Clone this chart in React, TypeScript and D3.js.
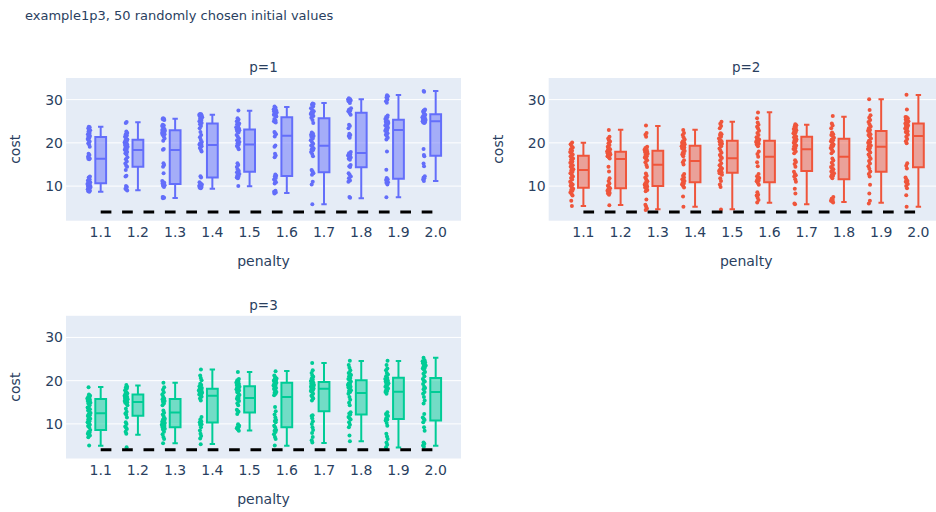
import React from 'react';
import * as d3 from 'd3';

// ---------- data ----------
const categories = [1.1, 1.2, 1.3, 1.4, 1.5, 1.6, 1.7, 1.8, 1.9, 2.0];
const tickLabels = ['1.1', '1.2', '1.3', '1.4', '1.5', '1.6', '1.7', '1.8', '1.9', '2.0'];
const yTicks = [10, 20, 30];
const refCost = 4;
const refX = [1.1, 2.0];

// p=1
const p1Lower = [8.71, 9.02, 7.24, 9.4, 9.94, 8.4, 5.78, 7.17, 7.4, 11.18];
const p1Q1 = [10.64, 14.49, 10.48, 12.0, 13.3, 12.33, 13.18, 14.34, 11.72, 17.04];
const p1Median = [16.34, 18.35, 18.35, 19.5, 19.6, 21.66, 19.35, 17.65, 22.97, 24.98];
const p1Q3 = [21.35, 20.74, 22.9, 24.5, 23.1, 25.9, 25.67, 26.98, 25.36, 26.6];
const p1Upper = [23.74, 24.75, 25.6, 26.5, 27.4, 28.3, 29.2, 30.1, 31.07, 32.0];
const p1Points = [
  [8.7, 8.8, 8.9, 9.0, 9.3, 9.5, 9.6, 9.8, 9.9, 10.0, 10.2, 10.3, 10.5, 10.6, 10.7, 10.9, 11.0, 11.3, 11.6, 12.0, 12.2, 16.2, 16.3, 16.4, 16.5, 16.8, 17.2, 17.5, 19.1, 19.6, 19.9, 20.3, 20.6, 20.9, 21.2, 21.4, 21.6, 21.8, 22.0, 22.3, 22.6, 22.9, 23.1, 23.4, 23.6, 23.7],
  [9.0, 9.2, 9.4, 9.8, 10.0, 12.2, 12.4, 13.7, 14.5, 14.7, 15.2, 15.7, 16.2, 16.7, 17.3, 17.6, 17.9, 18.2, 18.4, 18.6, 18.9, 19.1, 19.3, 19.5, 19.7, 19.9, 20.1, 20.3, 20.5, 20.8, 21.0, 21.4, 21.7, 22.0, 22.3, 22.6, 24.6, 24.8],
  [7.2, 7.3, 7.4, 7.5, 9.8, 10.1, 10.2, 10.4, 10.6, 10.8, 10.9, 11.2, 13.0, 14.5, 14.9, 15.3, 18.4, 18.6, 20.5, 21.0, 21.5, 21.9, 22.0, 22.2, 22.3, 22.4, 22.6, 22.8, 22.9, 23.0, 23.2, 23.5, 23.9, 24.0, 24.2, 25.3, 25.4, 25.5, 25.6, 25.7],
  [9.5, 9.6, 9.8, 9.9, 10.0, 10.1, 10.2, 10.4, 10.6, 10.9, 12.0, 12.3, 18.0, 18.4, 18.8, 19.2, 19.5, 19.6, 19.7, 19.9, 20.2, 20.7, 21.3, 21.8, 22.5, 23.4, 23.9, 24.3, 24.6, 24.9, 25.0, 25.3, 25.6, 25.9, 26.1, 26.2, 26.3, 26.4, 26.5, 26.6, 26.7],
  [10.0, 11.8, 12.0, 12.2, 12.5, 12.8, 13.0, 13.2, 13.5, 13.9, 14.4, 14.9, 15.3, 18.5, 18.9, 19.3, 19.6, 19.9, 20.2, 20.4, 20.6, 21.0, 21.4, 21.8, 22.4, 22.7, 22.9, 23.0, 23.1, 23.3, 23.4, 23.6, 24.0, 24.3, 24.5, 24.7, 25.0, 25.4, 25.7, 27.5],
  [8.3, 8.5, 8.6, 8.7, 8.9, 10.6, 10.9, 11.2, 11.5, 11.9, 12.2, 12.4, 12.7, 16.7, 17.1, 17.5, 19.1, 19.4, 21.5, 22.0, 22.2, 22.5, 24.7, 24.9, 25.0, 25.2, 25.5, 26.1, 26.4, 26.5, 26.7, 26.9, 27.0, 27.2, 27.3, 27.5, 27.6, 27.8, 28.1, 28.4],
  [5.8, 10.4, 11.0, 12.6, 13.0, 13.4, 13.7, 16.9, 17.4, 17.9, 18.3, 18.5, 18.7, 19.1, 19.4, 19.8, 20.2, 20.6, 21.0, 21.4, 21.6, 21.8, 21.9, 22.1, 22.4, 24.6, 25.3, 25.8, 26.2, 26.5, 26.7, 26.9, 27.1, 27.3, 27.6, 28.0, 28.4, 28.8, 29.0, 29.1],
  [7.3, 7.5, 11.0, 11.3, 11.8, 12.2, 12.6, 13.0, 14.4, 14.6, 14.9, 16.1, 16.3, 16.6, 16.9, 17.1, 17.3, 17.6, 17.9, 21.2, 21.6, 21.8, 22.1, 23.4, 23.9, 24.2, 26.5, 26.9, 27.3, 27.5, 27.7, 28.0, 29.2, 29.6, 29.8, 29.9, 30.0, 30.1, 30.3],
  [7.4, 10.4, 10.8, 10.9, 11.2, 11.4, 11.6, 11.9, 13.8, 18.0, 20.8, 21.2, 21.6, 21.9, 22.2, 22.5, 22.8, 23.0, 23.2, 23.5, 23.7, 24.0, 24.2, 24.4, 24.6, 24.8, 24.9, 25.0, 25.2, 25.5, 25.9, 26.0, 26.3, 29.3, 29.6, 30.0, 30.5, 30.8, 31.0],
  [11.2, 11.5, 11.8, 12.0, 12.3, 14.6, 15.2, 16.9, 17.2, 18.6, 24.6, 24.7, 24.8, 24.9, 25.0, 25.1, 25.2, 25.3, 25.4, 25.5, 25.6, 25.8, 25.9, 26.0, 26.2, 26.5, 26.8, 27.2, 27.4, 27.5, 27.7, 31.8, 32.0],
];

// p=2
const p2Lower = [5.39, 5.63, 4.62, 5.24, 4.62, 6.16, 5.78, 6.32, 6.16, 5.24];
const p2Q1 = [9.63, 9.48, 10.02, 10.87, 13.1, 10.87, 13.49, 11.56, 13.33, 14.34];
const p2Median = [13.72, 16.26, 14.95, 15.8, 16.42, 16.8, 18.5, 16.8, 19.12, 21.6];
const p2Q3 = [17.04, 17.96, 18.2, 19.35, 20.5, 20.5, 21.43, 20.97, 22.74, 24.5];
const p2Upper = [20.04, 23.05, 23.9, 23.05, 24.9, 27.06, 24.2, 26.06, 30.07, 31.07];
const p2Points = [
  [5.4, 6.6, 7.8, 8.2, 8.5, 8.9, 9.1, 9.4, 9.7, 10.1, 10.4, 10.6, 11.0, 11.5, 11.9, 12.2, 12.7, 13.0, 13.3, 13.6, 13.9, 14.1, 14.5, 14.8, 15.0, 15.4, 15.7, 16.1, 16.4, 16.6, 16.9, 17.3, 17.6, 17.9, 18.2, 18.5, 18.9, 19.3, 19.7, 20.1],
  [5.6, 8.0, 8.3, 8.4, 8.6, 8.9, 9.0, 9.2, 9.5, 9.8, 10.1, 10.6, 11.2, 11.8, 13.4, 14.5, 16.4, 16.7, 16.9, 17.0, 17.2, 17.3, 17.4, 17.6, 17.7, 17.8, 18.0, 18.2, 18.4, 18.5, 18.8, 19.1, 19.5, 19.9, 20.3, 20.6, 21.0, 21.4, 23.0],
  [4.5, 4.8, 5.3, 5.7, 6.9, 8.8, 9.1, 9.4, 9.7, 9.9, 10.0, 10.3, 10.5, 10.7, 11.1, 11.5, 12.0, 12.4, 12.9, 14.4, 14.9, 15.5, 16.0, 16.3, 16.6, 16.9, 17.2, 17.5, 17.7, 17.9, 18.0, 18.2, 18.4, 18.5, 18.8, 19.1, 21.4, 21.9, 22.3, 24.0],
  [5.2, 7.6, 9.7, 10.0, 10.4, 10.6, 10.8, 11.2, 11.4, 11.6, 12.0, 12.4, 12.8, 15.0, 15.5, 16.0, 16.9, 17.3, 17.5, 17.7, 18.1, 18.5, 18.7, 18.9, 19.0, 19.2, 19.4, 19.5, 19.7, 19.8, 20.0, 20.1, 20.4, 20.8, 21.3, 21.8, 22.3, 23.0],
  [4.6, 9.8, 10.4, 11.2, 11.8, 12.6, 12.9, 13.0, 13.2, 13.4, 13.5, 13.7, 13.8, 14.1, 14.4, 14.8, 15.3, 16.0, 16.5, 16.8, 17.2, 17.7, 18.2, 18.7, 19.2, 19.6, 19.8, 20.0, 20.3, 20.4, 20.6, 21.0, 21.4, 21.8, 22.0, 22.2, 23.4, 23.9, 24.4, 24.9],
  [6.2, 6.8, 7.3, 7.8, 8.0, 8.6, 10.3, 10.7, 11.1, 11.3, 11.5, 11.9, 12.0, 12.3, 12.8, 14.6, 15.5, 16.8, 17.4, 18.0, 19.2, 19.6, 19.8, 20.0, 20.2, 20.4, 20.6, 20.8, 21.0, 21.3, 21.8, 22.3, 22.8, 23.3, 23.7, 24.2, 24.7, 25.7, 27.0],
  [5.8, 6.0, 8.3, 9.4, 11.0, 11.6, 12.2, 12.5, 12.8, 13.3, 14.5, 15.1, 15.6, 16.0, 17.6, 18.0, 18.4, 18.6, 18.8, 19.2, 19.4, 19.6, 20.0, 20.4, 20.6, 20.8, 21.1, 21.3, 21.5, 21.8, 22.2, 22.4, 22.6, 22.9, 23.0, 23.2, 23.5, 23.8, 24.1, 24.3],
  [6.2, 6.5, 6.6, 6.8, 7.1, 7.5, 11.8, 12.2, 12.4, 12.6, 13.0, 13.2, 13.4, 13.9, 14.1, 14.4, 14.9, 15.4, 15.9, 16.4, 17.6, 18.0, 18.4, 18.8, 19.2, 19.4, 19.6, 20.0, 20.4, 20.6, 20.8, 21.2, 21.6, 21.8, 22.0, 22.4, 23.4, 24.0, 24.5, 26.2],
  [6.0, 6.6, 8.3, 10.3, 12.2, 12.8, 13.4, 14.0, 14.6, 15.2, 15.8, 16.3, 16.8, 17.3, 17.8, 18.3, 18.6, 18.8, 19.2, 19.4, 19.6, 20.0, 20.2, 20.5, 21.0, 21.5, 21.8, 22.0, 22.5, 22.8, 23.0, 23.4, 23.8, 24.3, 24.8, 25.3, 25.8, 26.4, 27.6, 30.1],
  [5.2, 7.9, 9.5, 10.0, 10.5, 10.8, 11.0, 11.2, 11.5, 12.0, 14.1, 14.7, 15.3, 19.9, 20.4, 20.9, 21.4, 21.9, 22.3, 22.5, 22.7, 23.1, 23.3, 23.5, 23.9, 24.0, 24.2, 24.5, 24.6, 24.8, 25.0, 25.1, 25.4, 25.7, 25.9, 26.0, 27.7, 31.1],
];

// p=3
const p3Lower = [4.96, 7.52, 5.5, 5.35, 8.45, 4.96, 5.58, 5.97, 4.57, 4.96];
const p3Q1 = [8.6, 11.86, 9.22, 10.31, 12.64, 9.22, 12.95, 12.17, 11.16, 10.78];
const p3Median = [12.48, 15.04, 12.64, 16.5, 15.97, 16.2, 18.14, 17.13, 17.44, 17.36];
const p3Q3 = [15.74, 16.82, 15.74, 18.14, 18.68, 19.53, 19.7, 20.08, 20.7, 20.62];
const p3Upper = [18.53, 18.9, 19.53, 22.6, 22.0, 22.25, 24.1, 24.57, 24.57, 25.27];
const p3Points = [
  [5.0, 6.9, 7.3, 7.5, 7.7, 8.0, 8.1, 8.6, 9.2, 9.5, 9.8, 10.2, 10.4, 10.6, 11.0, 11.2, 11.4, 11.8, 12.0, 12.2, 12.5, 12.8, 13.1, 13.4, 13.6, 13.8, 14.3, 14.7, 14.9, 15.0, 15.3, 15.5, 15.6, 15.9, 16.0, 16.2, 16.5, 16.8, 18.5],
  [4.6, 7.7, 8.2, 8.8, 9.1, 9.4, 10.0, 10.4, 11.5, 12.1, 12.4, 12.8, 13.5, 14.3, 14.7, 14.9, 15.0, 15.2, 15.3, 15.5, 15.6, 15.7, 15.9, 16.0, 16.2, 16.4, 16.5, 16.8, 17.0, 17.1, 17.4, 17.8, 18.2, 18.4, 18.6, 19.0],
  [5.5, 6.5, 7.0, 7.6, 8.2, 8.7, 8.9, 9.0, 9.3, 9.5, 9.6, 9.8, 9.9, 10.0, 10.2, 10.4, 10.5, 10.8, 11.0, 11.2, 11.7, 12.2, 12.6, 13.1, 14.3, 14.7, 15.1, 15.3, 15.5, 15.7, 15.9, 16.3, 16.8, 17.3, 17.9, 18.5, 19.5],
  [5.3, 6.6, 7.2, 7.7, 8.5, 9.2, 9.8, 9.9, 10.2, 10.4, 10.6, 11.0, 11.6, 15.4, 15.9, 16.3, 16.6, 16.8, 16.9, 17.0, 17.2, 17.4, 17.5, 17.6, 17.7, 17.8, 18.0, 18.1, 18.3, 18.4, 18.7, 19.0, 19.3, 20.1, 20.6, 21.2, 22.6],
  [8.4, 8.7, 9.0, 9.2, 9.3, 9.6, 9.9, 12.3, 12.8, 13.0, 13.3, 14.3, 14.8, 15.3, 15.6, 15.8, 16.0, 16.3, 16.7, 17.1, 17.4, 17.7, 17.9, 18.0, 18.3, 18.5, 18.6, 18.9, 19.0, 19.2, 19.5, 19.6, 19.8, 20.1, 20.4, 22.0],
  [5.0, 6.5, 7.0, 7.6, 8.1, 8.4, 8.6, 9.2, 9.6, 10.4, 10.7, 10.9, 11.5, 12.2, 12.9, 13.9, 16.6, 17.0, 17.2, 17.4, 17.7, 18.1, 18.3, 18.5, 18.9, 19.0, 19.3, 19.5, 19.7, 20.0, 20.1, 20.3, 20.5, 20.8, 21.2, 22.2],
  [5.7, 6.2, 7.0, 7.9, 8.6, 9.2, 10.0, 10.6, 11.3, 11.8, 12.0, 15.4, 15.9, 16.2, 16.5, 17.0, 17.4, 17.6, 17.8, 18.1, 18.2, 18.4, 18.6, 18.7, 18.9, 19.0, 19.2, 19.3, 19.5, 19.6, 19.9, 20.2, 20.5, 20.9, 21.2, 21.8, 22.4, 24.1],
  [6.0, 7.3, 9.2, 9.8, 10.4, 11.0, 11.3, 11.6, 12.2, 12.4, 12.7, 14.3, 14.9, 15.6, 16.2, 17.0, 17.4, 17.6, 17.8, 18.2, 18.4, 18.6, 18.8, 19.0, 19.2, 19.4, 19.8, 20.2, 20.4, 20.6, 21.0, 21.3, 21.6, 21.8, 22.4, 23.0, 23.6, 24.6],
  [4.6, 5.2, 5.7, 6.5, 7.1, 7.7, 9.6, 10.2, 10.8, 11.0, 11.3, 11.8, 12.0, 12.3, 12.7, 17.0, 17.4, 17.6, 17.8, 18.2, 18.4, 18.6, 19.0, 19.2, 19.4, 19.6, 19.8, 20.0, 20.2, 20.4, 20.6, 21.0, 21.4, 21.8, 22.4, 22.8, 23.6, 24.6],
  [4.7, 5.0, 5.4, 5.7, 8.4, 9.2, 10.4, 10.9, 11.2, 11.5, 12.3, 14.7, 15.4, 16.2, 17.0, 17.4, 18.0, 18.3, 18.6, 19.2, 19.8, 20.0, 20.4, 21.0, 21.6, 22.0, 22.5, 22.8, 23.0, 23.3, 23.5, 23.8, 24.0, 24.2, 24.4, 24.5, 24.7, 25.3],
];

// ---------- layout ----------
const W = 936;
const H = 512;
const PW = 395;
const PH = 142.7;
const X_DOMAIN = [1.0068, 2.068];
const Y_DOMAIN = [2, 35];
const TEXT = '#2a3f5f';
const BG = '#E5ECF6';
const FONT = '"DejaVu Sans", Verdana, sans-serif';

function jitter(vals: number[], seed: number): number[] {
  const dens = vals.map((v) => vals.filter((u) => Math.abs(u - v) < 1.2).length);
  const maxD = Math.max(...dens);
  return vals.map((_, i) => {
    const r = (((i + 1) * 0.6180339887 + seed * 0.3141592) % 1) * 2 - 1;
    return r * Math.sqrt(dens[i] / maxD);
  });
}

type PanelProps = {
  id: string;
  x0: number;
  y0: number;
  title: string;
  color: string;
  fill: string;
  lower: number[];
  q1: number[];
  med: number[];
  q3: number[];
  upper: number[];
  points: number[][];
};

function Panel(p: PanelProps) {
  const x = d3.scaleLinear().domain(X_DOMAIN).range([p.x0, p.x0 + PW]);
  const y = d3.scaleLinear().domain(Y_DOMAIN).range([p.y0 + PH, p.y0]);
  const half = 5.4;
  const cap = half * 0.5;
  const ptOffset = -11.7;
  const jitAmp = 1.8;
  const refLine = d3
    .line<number>()
    .x((d) => x(d))
    .y(() => y(refCost))(refX);

  return (
    <g>
      <defs>
        <clipPath id={`clip-${p.id}`}>
          <rect x={p.x0} y={p.y0} width={PW} height={PH} />
        </clipPath>
      </defs>
      <rect x={p.x0} y={p.y0} width={PW} height={PH} fill={BG} />
      {yTicks.map((t) => (
        <line key={t} x1={p.x0} x2={p.x0 + PW} y1={y(t)} y2={y(t)} stroke="#fff" strokeWidth={1} />
      ))}
      <g clipPath={`url(#clip-${p.id})`}>
        {categories.map((c, i) => {
          const xc = x(c);
          const path = d3.path();
          path.moveTo(xc - half, y(p.med[i]));
          path.lineTo(xc + half, y(p.med[i]));
          path.moveTo(xc - half, y(p.q3[i]));
          path.lineTo(xc + half, y(p.q3[i]));
          path.lineTo(xc + half, y(p.q1[i]));
          path.lineTo(xc - half, y(p.q1[i]));
          path.closePath();
          path.moveTo(xc, y(p.q3[i]));
          path.lineTo(xc, y(p.upper[i]));
          path.moveTo(xc, y(p.q1[i]));
          path.lineTo(xc, y(p.lower[i]));
          path.moveTo(xc - cap, y(p.upper[i]));
          path.lineTo(xc + cap, y(p.upper[i]));
          path.moveTo(xc - cap, y(p.lower[i]));
          path.lineTo(xc + cap, y(p.lower[i]));
          const js = jitter(p.points[i], i);
          return (
            <g key={c}>
              <path d={path.toString()} fill={p.fill} stroke={p.color} strokeWidth={2} />
              {p.points[i].map((v, k) => (
                <circle key={k} cx={xc + ptOffset + js[k] * jitAmp} cy={y(v)} r={2} fill={p.color} />
              ))}
            </g>
          );
        })}
        <path d={refLine || ''} fill="none" stroke="#000" strokeWidth={3} strokeDasharray="10.7,10.7" />
      </g>
      {yTicks.map((t) => (
        <text key={t} x={p.x0 - 3} y={y(t) + 5} textAnchor="end" fontSize={14} fill={TEXT} fontFamily={FONT}>
          {t}
        </text>
      ))}
      {categories.map((c, i) => (
        <text key={c} x={x(c)} y={p.y0 + PH + 16.5} textAnchor="middle" fontSize={14} fill={TEXT} fontFamily={FONT}>
          {tickLabels[i]}
        </text>
      ))}
      <text x={p.x0 + PW / 2} y={p.y0 - 6} textAnchor="middle" fontSize={13.5} fill={TEXT} fontFamily={FONT}>
        {p.title}
      </text>
      <text x={p.x0 + PW / 2} y={p.y0 + PH + 45.5} textAnchor="middle" fontSize={14} fill={TEXT} fontFamily={FONT}>
        penalty
      </text>
      <text
        transform={`translate(${p.x0 - 46},${p.y0 + PH / 2}) rotate(-90)`}
        textAnchor="middle"
        fontSize={14}
        fill={TEXT}
        fontFamily={FONT}
      >
        cost
      </text>
    </g>
  );
}

export default function App() {
  return (
    <svg
      width={W}
      height={H}
      style={{ position: 'absolute', left: 0, top: 0, background: '#fff' }}
      xmlns="http://www.w3.org/2000/svg"
    >
      <rect x={0} y={0} width={W} height={H} fill="#fff" />
      <text x={25} y={20} fontSize={13} fill={TEXT} fontFamily={FONT}>
        example1p3, 50 randomly chosen initial values
      </text>
      <Panel
        id="p1"
        x0={66}
        y0={78}
        title="p=1"
        color="#636efa"
        fill="rgba(99,110,250,0.5)"
        lower={p1Lower}
        q1={p1Q1}
        med={p1Median}
        q3={p1Q3}
        upper={p1Upper}
        points={p1Points}
      />
      <Panel
        id="p2"
        x0={548.7}
        y0={78}
        title="p=2"
        color="#EF553B"
        fill="rgba(239,85,59,0.5)"
        lower={p2Lower}
        q1={p2Q1}
        med={p2Median}
        q3={p2Q3}
        upper={p2Upper}
        points={p2Points}
      />
      <Panel
        id="p3"
        x0={66}
        y0={315.8}
        title="p=3"
        color="#00cc96"
        fill="rgba(0,204,150,0.5)"
        lower={p3Lower}
        q1={p3Q1}
        med={p3Median}
        q3={p3Q3}
        upper={p3Upper}
        points={p3Points}
      />
    </svg>
  );
}
